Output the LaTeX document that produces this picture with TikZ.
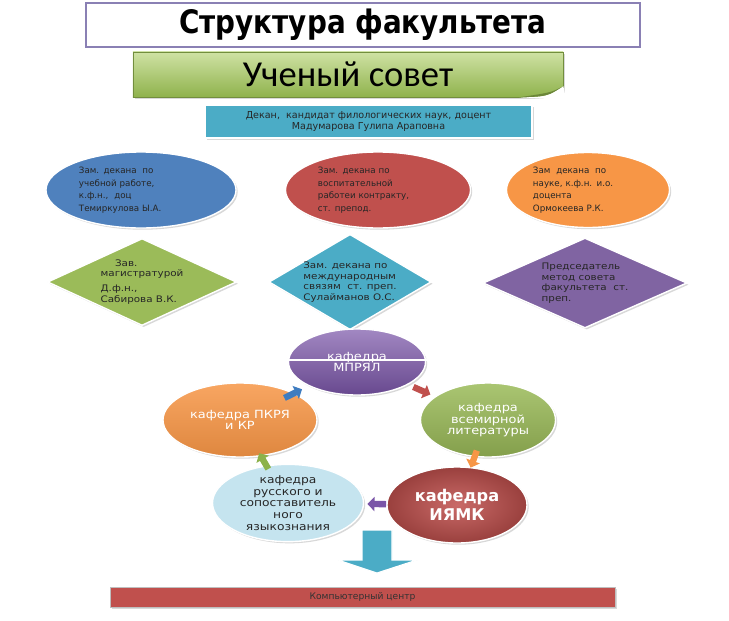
\documentclass[tikz,border=0pt]{standalone}
\usepackage{fontspec}
\setmainfont{DejaVu Sans}
\newfontfamily\carlito{Carlito}
\newfontfamily\widesans[FakeStretch=1.15]{DejaVu Sans}
\newfontfamily\titlefont[FakeStretch=0.86]{DejaVu Sans}
\usetikzlibrary{arrows.meta,calc,positioning,shapes.geometric,shadows}

\definecolor{titleframe}{HTML}{8A80B4}
\definecolor{councilTop}{HTML}{CFE2A4}
\definecolor{councilBot}{HTML}{8FB24C}
\definecolor{deanteal}{HTML}{4BACC6}
\definecolor{depblue}{HTML}{4F81BD}
\definecolor{depred}{HTML}{C0504D}
\definecolor{deporange}{HTML}{F79646}
\definecolor{rhgreen}{HTML}{9BBB59}
\definecolor{rhpurple}{HTML}{8064A2}
\definecolor{lightblue}{HTML}{C5E4EF}
\definecolor{arrblue}{HTML}{3E7CC0}
\definecolor{arrpurple}{HTML}{7A55A8}
\definecolor{arrgreen}{HTML}{8CB24A}

\begin{document}
\begin{tikzpicture}[x=0.025cm, y=-0.025cm, >=Latex,
    softshadow/.style={drop shadow={opacity=0.3, shadow xshift=1.2pt, shadow yshift=-1.2pt}},
    band/.style={rectangle, inner sep=0pt},
    oval/.style={ellipse, draw=white, line width=1pt, inner sep=0pt, softshadow},
    deputy/.style={oval, font=\fontsize{6.2}{8.9}\selectfont, align=left, text=black!85},
    rhomb/.style={diamond, draw=white, line width=1pt, inner sep=0pt, softshadow,
        font=\widesans\fontsize{6.4}{7.6}\selectfont, align=left, text=black!85},
    dept/.style={oval, font=\widesans\fontsize{8}{7.6}\selectfont, align=center, text=white},
    cyc/.style={line width=4.5pt, -{Triangle[width=10pt,length=5pt]}},
]
    \fill[white] (0,0) rectangle (729,620);
    \useasboundingbox (0,0) rectangle (729,620);

    \node[band, draw=titleframe, line width=1.5pt, fill=white, minimum width=13.85cm, minimum height=1.1cm,
        font=\titlefont\bfseries\fontsize{23}{26}\selectfont] (title) at (363,25) {Структура факультета};

    \node[band, top color=councilTop, bottom color=councilBot, draw=councilBot!80!black, line width=0.4pt,
        minimum width=10.75cm, minimum height=1.125cm, softshadow,
        font=\carlito\fontsize{26}{28}\selectfont] (council) at (348,74.5) {Ученый совет};
    \fill[white] ([xshift=-1.1cm]council.south east) .. controls ([xshift=-0.4cm,yshift=0.02cm]council.south east)
        .. ([yshift=0.28cm]council.south east) -- ([xshift=2pt,yshift=-2pt]council.south east) -- cycle;
    \fill[councilBot!75!black] ([xshift=-1.1cm]council.south east) .. controls ([xshift=-0.4cm,yshift=0.02cm]council.south east)
        .. ([yshift=0.28cm]council.south east) .. controls ([xshift=-0.3cm,yshift=0.12cm]council.south east)
        .. ([xshift=-1.1cm]council.south east) -- cycle;

    \node[band, fill=deanteal, draw=white, line width=1pt, minimum width=8.175cm, minimum height=0.825cm, softshadow,
        font=\fontsize{6.8}{8.3}\selectfont, align=center, text=black!85] (dean) at (368.5,121.5)
        {Декан,\ \ кандидат филологических наук, доцент\\Мадумарова Гулипа Араповна};

    \node[deputy, fill=depblue, minimum width=4.75cm, minimum height=1.9cm, text width=3.1cm] (study) at (141,190)
        {Зам. декана\ \ по\\учебной работе,\\к.ф.н.,\ \ доц\\Темиркулова Ы.А.};
    \node[deputy, fill=depred, minimum width=4.625cm, minimum height=1.9cm, text width=3.0cm] (upbring) at (378,190)
        {Зам. декана по\\воспитательной\\работеи контракту,\\ст. препод.};
    \node[deputy, fill=deporange, minimum width=4.075cm, minimum height=1.875cm, text width=2.75cm] (science) at (588,190)
        {Зам\ \ декана\ \ по\\науке, к.ф.н. и.о.\\доцента\\Ормокеева Р.К.};

    \node[rhomb, fill=rhgreen, minimum width=4.725cm, minimum height=2.175cm, aspect=2.2] (master) at (142,282)
        {\hspace*{1.6em}Зав.\\магистратурой\\[3pt]Д.ф.н.,\\Сабирова В.К.};
    \node[rhomb, fill=deanteal, minimum width=3.675cm, minimum height=2.125cm, aspect=1.7] (intl) at (350,282)
        {Зам. декана по\\международным\\связям\ \ ст. преп.\\Сулайманов О.С.};
    \node[rhomb, fill=rhpurple, minimum width=5.1cm, minimum height=2.25cm, aspect=2.3] (method) at (585,283)
        {Председатель\\метод совета\\факультета\ \ ст.\\преп.};

    \node[dept, top color=arrpurple!70!white, bottom color=arrpurple!85!black, minimum width=3.425cm, minimum height=1.65cm]
        (mpryal) at (357,362) {кафедра\\МПРЯЛ};
    \draw[white, line width=1pt] ([xshift=-2pt,yshift=1.5pt]mpryal.west) -- ([xshift=2pt,yshift=1.5pt]mpryal.east);
    \node[dept, top color=deporange!85!white, bottom color=deporange!90!black, minimum width=3.85cm, minimum height=1.85cm]
        (pkrya) at (240,420) {кафедра ПКРЯ\\и КР};
    \node[dept, top color=rhgreen!85!white, bottom color=rhgreen!85!black, minimum width=3.375cm, minimum height=1.85cm]
        (worldlit) at (488,420) {кафедра\\всемирной\\литературы};
    \node[dept, fill=lightblue, text=black!85, font=\widesans\fontsize{7.6}{8.3}\selectfont,
        minimum width=3.775cm, minimum height=1.875cm] (russ) at (288,503)
        {кафедра\\русского и\\сопоставитель\\ного\\языкознания};
    \node[dept, inner color=depred!85!white, outer color=depred!80!black, font=\bfseries\fontsize{11.5}{13.5}\selectfont,
        minimum width=3.5cm, minimum height=1.9cm] (iyamk) at (457,505) {кафедра\\ИЯМК};

    \foreach \from/\to/\s/\e/\col in {pkrya/mpryal/0.38/0.53/arrblue, mpryal/worldlit/0.43/0.56/depred,
        worldlit/iyamk/0.36/0.56/deporange, iyamk/russ/0.42/0.53/arrpurple, russ/pkrya/0.41/0.6/arrgreen}{
        \draw[cyc, draw=\col] ($(\from)!\s!(\to)$) -- ($(\from)!\e!(\to)$);
    }

    \node[band, fill=depred, draw=black!25, line width=0.6pt, minimum width=12.625cm, minimum height=0.5cm, softshadow,
        font=\fontsize{6.5}{8}\selectfont, text=black!80] (comp) at (362.5,597) {Компьютерный центр};

    \filldraw[fill=deanteal, draw=white, line width=0.8pt] (362,530) -- (392,530) -- (392,560) -- (417,560)
        -- (377,573) -- (338,560) -- (362,560) -- cycle;
\end{tikzpicture}
\end{document}
